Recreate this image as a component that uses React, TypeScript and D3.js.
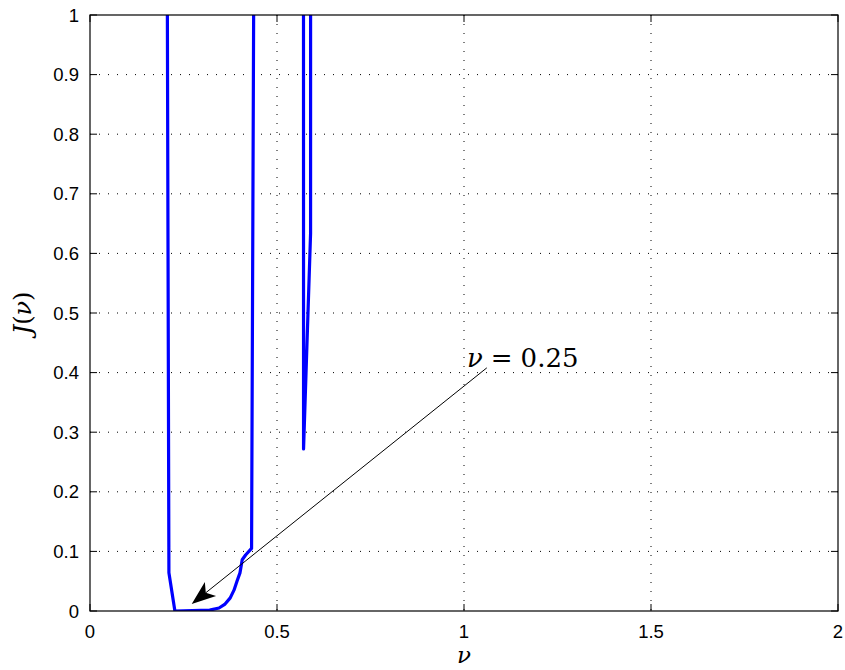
import React from "react";
import * as d3 from "d3";

const nuValues = [0.2, 0.206, 0.211, 0.227, 0.32, 0.345, 0.36, 0.375, 0.385, 0.393, 0.401, 0.407, 0.416, 0.432, 0.44, 0.5, 0.56, 0.571, 0.5898, 0.592, 0.6];
const jValues = [5, 1.2, 0.064, 0, 0.0015, 0.005, 0.011, 0.022, 0.035, 0.05, 0.064, 0.086, 0.094, 0.105, 1.4, 50, 50, 0.272, 0.634, 50, 50];
const xTicks = [0, 0.5, 1, 1.5, 2];
const yTicks = [0, 0.1, 0.2, 0.3, 0.4, 0.5, 0.6, 0.7, 0.8, 0.9, 1];
const annotationValue = "0.25";
const annotationTextPos = [1.008, 0.41];
const arrowStart = [1.061, 0.408];
const arrowEnd = [0.272, 0.0117];

const W = 845, H = 670;
const L = 90, R = 838, T = 15, B = 611;

export default function App() {
  const x = d3.scaleLinear().domain([0, 2]).range([L, R]);
  const y = d3.scaleLinear().domain([0, 1]).range([B, T]);
  const pts = nuValues.map((v, i) => [v, jValues[i]] as [number, number]);
  const line = d3.line<[number, number]>().x(d => x(d[0])).y(d => y(d[1]));

  const ax0 = x(arrowStart[0]), ay0 = y(arrowStart[1]);
  const ax1 = x(arrowEnd[0]), ay1 = y(arrowEnd[1]);
  const ang = Math.atan2(ay1 - ay0, ax1 - ax0);
  const hl = 24, hw = 9;
  const bx = ax1 - hl * Math.cos(ang), by = ay1 - hl * Math.sin(ang);
  const nx = -Math.sin(ang), ny = Math.cos(ang);
  const notch = 0.75;
  const mx = ax1 - hl * notch * Math.cos(ang), my = ay1 - hl * notch * Math.sin(ang);
  const head = `M${ax1},${ay1} L${bx + nx * hw},${by + ny * hw} L${mx},${my} L${bx - nx * hw},${by - ny * hw} Z`;

  const tickFont = "Liberation Sans, Arial, sans-serif";
  const tickLen = 7;

  return (
    <svg width={W} height={H} style={{ position: "absolute", left: 0, top: 0, background: "#fff" }}>
      <defs>
        <clipPath id="plotclip">
          <rect x={L} y={T} width={R - L} height={B - T} />
        </clipPath>
      </defs>
      <rect x={0} y={0} width={W} height={H} fill="#fff" />
      {xTicks.filter(t => t > 0 && t < 2).map(t => (
        <line key={"gx" + t} x1={x(t)} x2={x(t)} y1={T} y2={B} stroke="#000" strokeWidth={1} strokeDasharray="1,8" />
      ))}
      {yTicks.filter(t => t > 0 && t < 1).map(t => (
        <line key={"gy" + t} x1={L} x2={R} y1={y(t)} y2={y(t)} stroke="#000" strokeWidth={1} strokeDasharray="1,8" />
      ))}
      <path d={line(pts) || ""} fill="none" stroke="#0000ff" strokeWidth={3.2} strokeLinejoin="round" clipPath="url(#plotclip)" />
      <rect x={L} y={T} width={R - L} height={B - T} fill="none" stroke="#000" strokeWidth={1.2} />
      {xTicks.map(t => (
        <g key={"tx" + t}>
          <line x1={x(t)} x2={x(t)} y1={B} y2={B - tickLen} stroke="#000" />
          <line x1={x(t)} x2={x(t)} y1={T} y2={T + tickLen} stroke="#000" />
          <text x={x(t)} y={638} textAnchor="middle" fontFamily={tickFont} fontSize={18.5}>{String(t)}</text>
        </g>
      ))}
      {yTicks.map(t => (
        <g key={"ty" + t}>
          <line x1={L} x2={L + tickLen} y1={y(t)} y2={y(t)} stroke="#000" />
          <line x1={R} x2={R - tickLen} y1={y(t)} y2={y(t)} stroke="#000" />
          <text x={L - 11} y={y(t) + 6.5} textAnchor="end" fontFamily={tickFont} fontSize={18.5}>{String(t)}</text>
        </g>
      ))}
      <text x={(L + R) / 2} y={663} textAnchor="middle" fontFamily="DejaVu Serif, serif" fontStyle="italic" fontSize={23}>ν</text>
      <text transform={`translate(31,${(T + B) / 2}) rotate(-90)`} textAnchor="middle" fontFamily="DejaVu Serif, serif" fontSize={24}>
        <tspan fontStyle="italic">J</tspan>(<tspan fontStyle="italic">ν</tspan>)
      </text>
      <line x1={ax0} y1={ay0} x2={mx} y2={my} stroke="#000" strokeWidth={1} />
      <path d={head} fill="#000" />
      <text x={x(annotationTextPos[0])} y={y(annotationTextPos[1])} fontFamily="DejaVu Serif, serif" fontSize={26}>
        <tspan fontStyle="italic">ν</tspan>
        <tspan dx={8}>=</tspan>
        <tspan dx={8}>{annotationValue}</tspan>
      </text>
    </svg>
  );
}
